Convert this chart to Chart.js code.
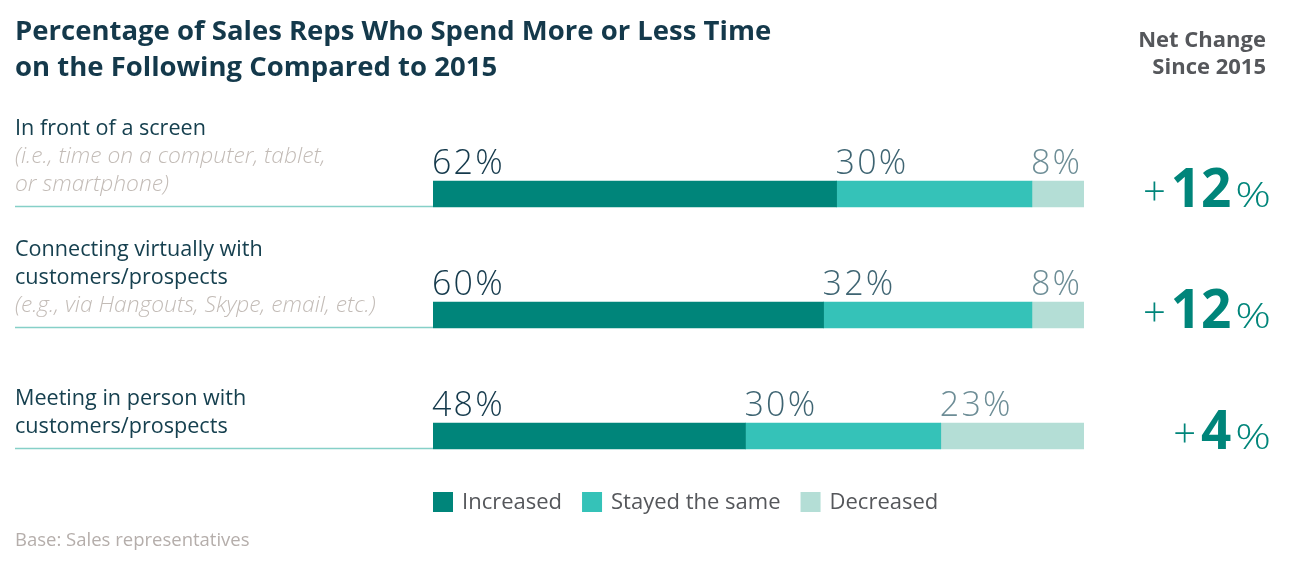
<!DOCTYPE html>
<html>
<head>
<meta charset="utf-8">
<script src="https://cdn.jsdelivr.net/npm/chart.js@4"></script>
<style>
  html, body { margin: 0; padding: 0; background: #ffffff; }
  #wrap { width: 1294px; height: 568px; position: relative; }
</style>
</head>
<body>
<div id="wrap"><canvas id="c" width="1294" height="568"></canvas></div>
<script>
// ---- Data ----
const categoryLines = [
  ["In front of a screen"],
  ["Connecting virtually with", "customers/prospects"],
  ["Meeting in person with", "customers/prospects"]
];
const categoryNotes = [
  ["(i.e., time on a computer, tablet,", "or smartphone)"],
  ["(e.g., via Hangouts, Skype, email, etc.)"],
  []
];
const increased = [62, 60, 48];
const stayedSame = [30, 32, 30];
const decreased = [8, 8, 23];
const netChange = [12, 12, 4];
const seriesNames = ["Increased", "Stayed the same", "Decreased"];
const titleLines = ["Percentage of Sales Reps Who Spend More or Less Time", "on the Following Compared to 2015"];
const netHeader = ["Net Change", "Since 2015"];
const baseNote = "Base: Sales representatives";

const FONT = "'Open Sans', 'Liberation Sans', sans-serif";
const seriesColors = ["#00857a", "#35c2b8", "#b4ded6"];
const valueLabelColors = ["#14394b", "#3e6472", "#6d8d96"];

const decorPlugin = {
  id: 'decor',
  afterDatasetsDraw(chart) {
    const ctx = chart.ctx;
    const area = chart.chartArea;
    ctx.save();
    // Title
    ctx.fillStyle = "#14394b";
    ctx.font = "bold 27.5px " + FONT;
    ctx.textBaseline = "middle";
    ctx.textAlign = "left";
    ctx.fillText(titleLines[0], 15, 32);
    ctx.fillText(titleLines[1], 15, 68);
    // Net change header
    ctx.fillStyle = "#55575b";
    ctx.font = "bold 22px " + FONT;
    ctx.textAlign = "right";
    ctx.fillText(netHeader[0], 1266, 41);
    ctx.fillText(netHeader[1], 1266, 68);

    const meta0 = chart.getDatasetMeta(0);
    meta0.data.forEach((bar, i) => {
      const half = bar.height / 2;
      const bottom = bar.y + half;
      // underline
      ctx.strokeStyle = "#86d0c8";
      ctx.lineWidth = 1.5;
      ctx.beginPath();
      ctx.moveTo(15, bottom - 0.5);
      ctx.lineTo(area.left, bottom - 0.5);
      ctx.stroke();
      // left labels (bottom anchored)
      const lines = categoryLines[i].map(t => ({ t, note: false }))
        .concat(categoryNotes[i].map(t => ({ t, note: true })));
      ctx.textAlign = "left";
      ctx.textBaseline = "middle";
      const n = lines.length;
      lines.forEach((ln, k) => {
        const y = bar.y - 9 - (n - 1 - k) * 28;
        if (ln.note) {
          ctx.font = "italic 300 22.8px " + FONT;
          ctx.fillStyle = "#c3bcb7";
        } else {
          ctx.font = "21.6px " + FONT;
          ctx.fillStyle = "#16404f";
        }
        ctx.fillText(ln.t, 15, y);
      });
      // net change on right
      ctx.textBaseline = "alphabetic";
      ctx.fillStyle = "#00857a";
      const baseY = bottom;
      ctx.font = "300 34px " + FONT;
      const pctW = ctx.measureText("%").width * 1.3;
      ctx.font = "bold 53px " + FONT;
      const numStr = String(netChange[i]);
      const numW = ctx.measureText(numStr).width;
      ctx.font = "300 40px " + FONT;
      const plusW = ctx.measureText("+").width;
      let xr = 1271;
      ctx.textAlign = "left";
      ctx.font = "300 34px " + FONT;
      ctx.save();
      ctx.translate(xr - pctW, baseY);
      ctx.scale(1.3, 1);
      ctx.fillText("%", 0, 0);
      ctx.restore();
      xr -= pctW + 4;
      ctx.font = "bold 53px " + FONT;
      ctx.fillText(numStr, xr - numW, baseY);
      xr -= numW + 5;
      ctx.font = "300 40px " + FONT;
      ctx.fillText("+", xr - plusW, baseY - 2);
    });

    // value labels above segments
    chart.data.datasets.forEach((ds, di) => {
      const meta = chart.getDatasetMeta(di);
      meta.data.forEach((bar, i) => {
        const left = Math.min(bar.base, bar.x);
        ctx.font = "300 34px " + FONT;
        ctx.letterSpacing = "2.2px";
        ctx.fillStyle = valueLabelColors[di];
        ctx.textAlign = "left";
        ctx.textBaseline = "alphabetic";
        ctx.fillText(ds.data[i] + "%", left - 1, bar.y - bar.height / 2 - 7);
        ctx.letterSpacing = "0px";
      });
    });

    // legend
    let lx = area.left;
    const ly = 492;
    ctx.font = "22px " + FONT;
    ctx.textBaseline = "middle";
    chart.data.datasets.forEach((ds, di) => {
      ctx.fillStyle = ds.backgroundColor;
      ctx.fillRect(lx, ly, 20, 20);
      ctx.fillStyle = "#55575b";
      ctx.textAlign = "left";
      ctx.fillText(ds.label, lx + 29, ly + 11);
      lx += 29 + ctx.measureText(ds.label).width + 20;
    });

    // base note
    ctx.font = "18.5px " + FONT;
    ctx.fillStyle = "#b5aeab";
    ctx.textBaseline = "middle";
    ctx.fillText(baseNote, 15, 541);
    ctx.restore();
  }
};

new Chart(document.getElementById('c'), {
  type: 'bar',
  data: {
    labels: categoryLines.map(l => l.join(' ')),
    datasets: [
      { label: seriesNames[0], data: increased, backgroundColor: seriesColors[0] },
      { label: seriesNames[1], data: stayedSame, backgroundColor: seriesColors[1] },
      { label: seriesNames[2], data: decreased, backgroundColor: seriesColors[2] }
    ]
  },
  options: {
    indexAxis: 'y',
    responsive: false,
    animation: false,
    devicePixelRatio: 1,
    layout: { padding: { left: 433, right: 210, top: 133.5, bottom: 71.5 } },
    datasets: { bar: { barThickness: 26, borderWidth: 0, borderSkipped: false } },
    scales: {
      x: { stacked: true, min: 0, max: 100, display: false },
      y: { stacked: true, display: false }
    },
    plugins: { legend: { display: false }, tooltip: { enabled: false }, title: { display: false } }
  },
  plugins: [decorPlugin]
});
</script>
</body>
</html>
